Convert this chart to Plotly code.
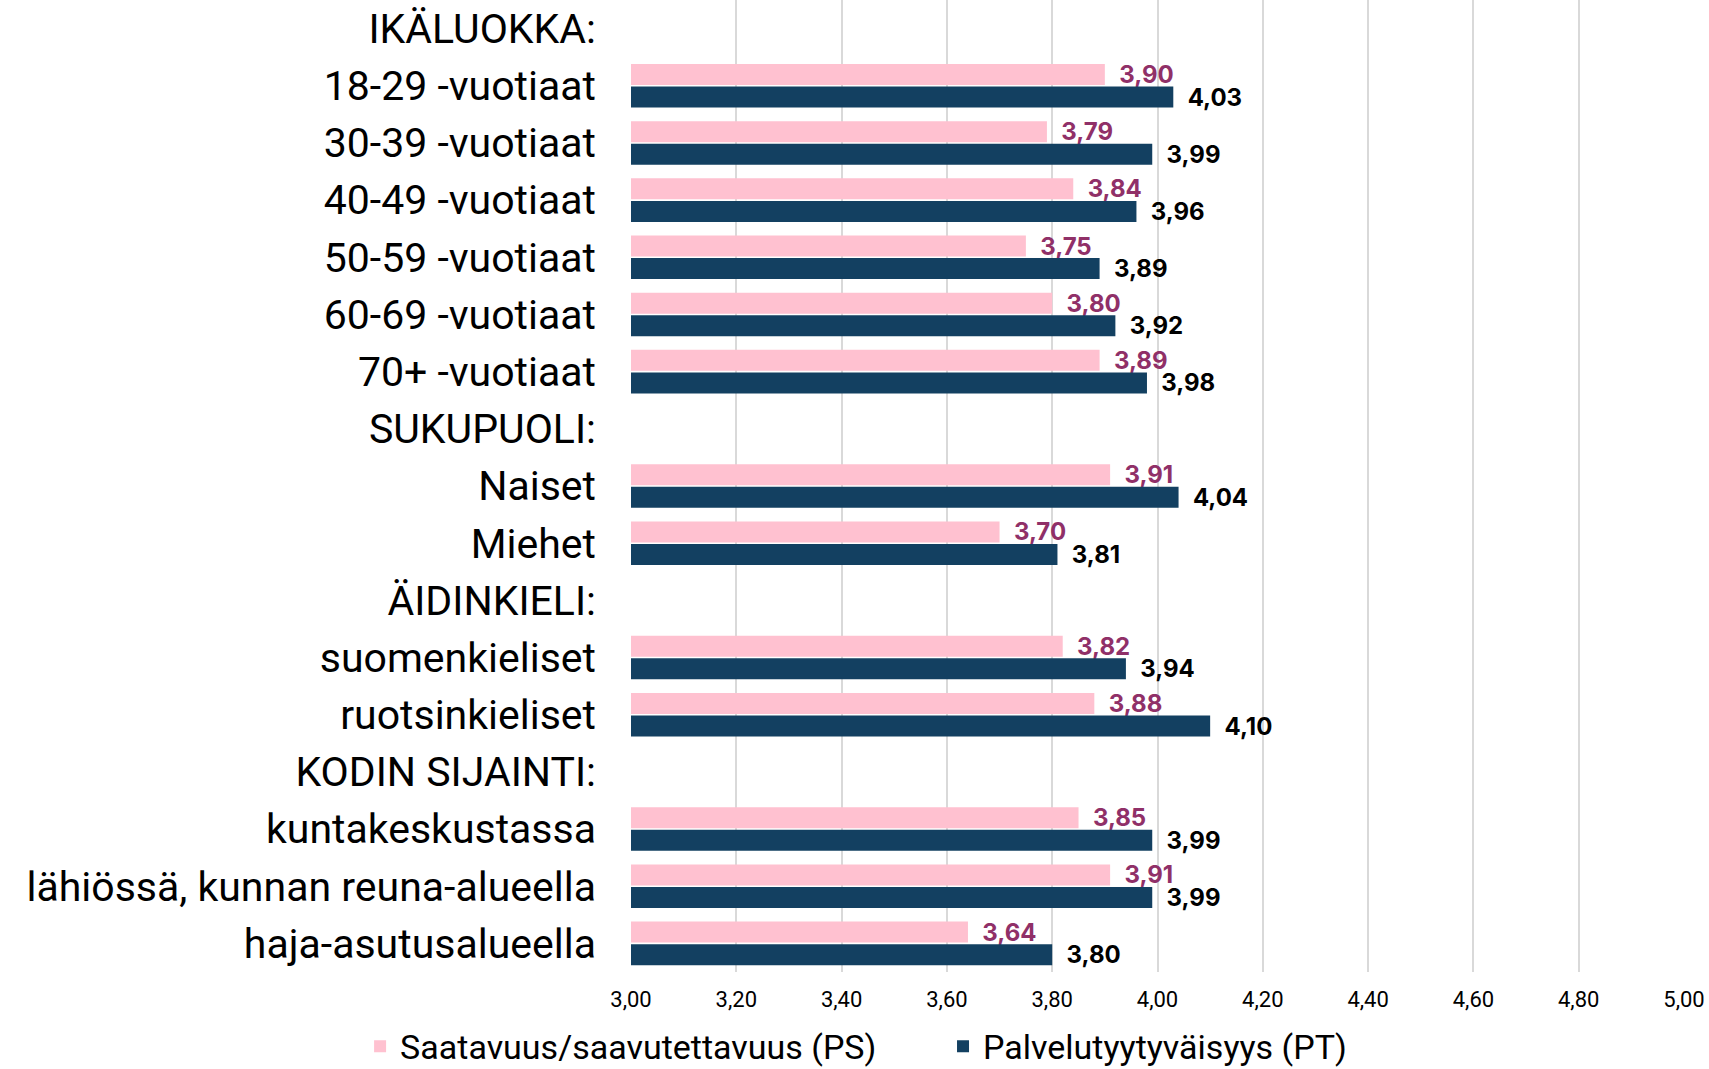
import plotly.graph_objects as go

categories = ["IKÄLUOKKA:", "18-29 -vuotiaat", "30-39 -vuotiaat", "40-49 -vuotiaat",
              "50-59 -vuotiaat", "60-69 -vuotiaat", "70+ -vuotiaat",
              "SUKUPUOLI:", "Naiset", "Miehet",
              "ÄIDINKIELI:", "suomenkieliset", "ruotsinkieliset",
              "KODIN SIJAINTI:", "kuntakeskustassa", "lähiössä, kunnan reuna-alueella",
              "haja-asutusalueella"]
ps_values = [None, 3.90, 3.79, 3.84, 3.75, 3.80, 3.89,
             None, 3.91, 3.70,
             None, 3.82, 3.88,
             None, 3.85, 3.91, 3.64]
pt_values = [None, 4.03, 3.99, 3.96, 3.89, 3.92, 3.98,
             None, 4.04, 3.81,
             None, 3.94, 4.10,
             None, 3.99, 3.99, 3.80]
x_ticks = [3.0, 3.2, 3.4, 3.6, 3.8, 4.0, 4.2, 4.4, 4.6, 4.8, 5.0]

PINK = "#FFC1D0"
NAVY = "#134061"
PINK_LABEL = "#903068"

fig = go.Figure()
fig.add_trace(go.Bar(
    y=categories, x=ps_values, orientation="h", name="Saatavuus/saavutettavuus (PS)",
    marker=dict(color=PINK, line=dict(width=0)),
    texttemplate="  %{x:.2f}", textposition="outside", cliponaxis=False,
    constraintext="none",
    outsidetextfont=dict(family="Inter", size=24, color=PINK_LABEL, weight="bold"),
    legend="legend",
))
fig.add_trace(go.Bar(
    y=categories, x=pt_values, orientation="h", name="Palvelutyytyväisyys (PT)",
    marker=dict(color=NAVY, line=dict(width=0)),
    texttemplate="  %{x:.2f}", textposition="outside", cliponaxis=False,
    constraintext="none",
    outsidetextfont=dict(family="Inter", size=24, color="#000000", weight="bold"),
    legend="legend2",
))

legend_common = dict(orientation="h", xref="container", yref="container",
                     xanchor="left", y=0.021, yanchor="middle",
                     bgcolor="rgba(0,0,0,0)",
                     font=dict(family="Roboto", size=34, color="#000000"),
                     itemwidth=30)

fig.update_layout(
    width=1709, height=1069,
    margin=dict(l=631, r=25, t=0, b=97),
    barmode="group", bargap=0.21, bargroupgap=0.07,
    separators=", ",
    plot_bgcolor="white", paper_bgcolor="white",
    font=dict(family="Roboto", color="#000000"),
    showlegend=True,
    legend=dict(x=0.2107, **legend_common),
    legend2=dict(x=0.5518, **legend_common),
    xaxis=dict(range=[3, 5], tickvals=x_ticks, tickformat=".2f",
               automargin=False,
               showgrid=True, gridcolor="#D9D9D9", gridwidth=2,
               zeroline=False, showline=False,
               ticks="", ticklabelstandoff=12,
               tickfont=dict(family="Roboto", size=22, color="#000000")),
    yaxis=dict(autorange="reversed", type="category", automargin=False,
               showgrid=False, showline=False, ticks="",
               ticklabelstandoff=34,
               tickfont=dict(family="Roboto", size=41, color="#000000")),
)

fig.write_html("out.html",
               config={"displayModeBar": False},
               post_script="document.body.style.margin='0';document.body.style.overflow='hidden';")
